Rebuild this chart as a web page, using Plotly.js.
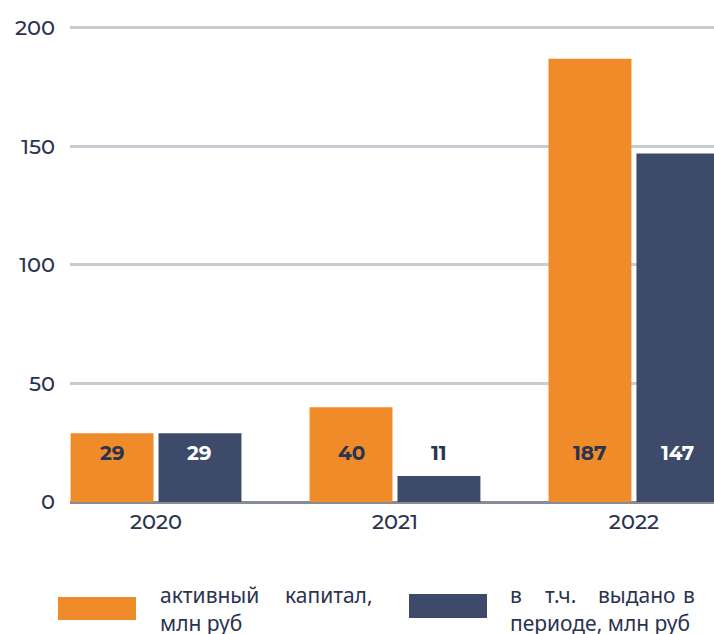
<!DOCTYPE html>
<html>
<head>
<meta charset="utf-8">
<script src="https://cdn.plot.ly/plotly-3.0.1.min.js"></script>
<style>html,body{margin:0;padding:0;background:#fff;}#chart{width:714px;height:634px;}</style>
</head>
<body>
<div id="chart"></div>
<script>
const years = ['2020', '2021', '2022'];
const activeCapital = [29, 40, 187];
const issued = [29, 11, 147];
const seriesNames = ['активный капитал, млн руб', 'в т.ч. выдано в периоде, млн руб'];
const yTicks = [0, 50, 100, 150, 200];

const ORANGE = '#EF8B28';
const NAVY = '#3D4A6A';
const DARK = '#2A3350';
const FONT = 'Montserrat, Inter, "Open Sans", sans-serif';

const traces = [
  {type: 'bar', x: years, y: activeCapital, name: seriesNames[0], marker: {color: ORANGE}, hoverinfo: 'skip'},
  {type: 'bar', x: years, y: issued, name: seriesNames[1], marker: {color: NAVY}, hoverinfo: 'skip'}
];

// plot area in pixels
const PL = 70, PR = 714, PT = 18, PB = 502;
const px2x = p => (p - PL) / (PR - PL);
const px2y = p => (PB - p) / (PB - PT);

const LABEL_Y = 20.5;
const OFF = 0.184;
const annotations = [];
years.forEach((yr, i) => {
  annotations.push({x: i - OFF, y: LABEL_Y, xref: 'x', yref: 'y', text: String(activeCapital[i]), showarrow: false,
    font: {family: FONT, size: 20, color: DARK, weight: 700}});
  const inside = issued[i] > LABEL_Y + 5;
  annotations.push({x: i + OFF, y: LABEL_Y, xref: 'x', yref: 'y', text: String(issued[i]), showarrow: false,
    font: {family: FONT, size: 20, color: inside ? '#FFFFFF' : DARK, weight: 700}});
});

// Legend (custom, justified text like the reference)
const LEG_FONT = {family: '"Noto Sans", "Open Sans", sans-serif', size: 21, color: DARK};
function legText(text, xpx, ypx, anchor) {
  annotations.push({x: px2x(xpx), y: px2y(ypx), xref: 'paper', yref: 'paper', text: text,
    showarrow: false, xanchor: anchor, yanchor: 'middle', font: LEG_FONT});
}
const L1 = 595, L2 = 623;
legText('активный', 158, L1, 'left');
legText('капитал,', 375, L1, 'right');
legText('млн руб', 158, L2, 'left');
legText('в', 508, L1, 'left');
legText('т.ч.', 543, L1, 'left');
legText('выдано', 596, L1, 'left');
legText('в', 697, L1, 'right');
legText('периоде, млн руб', 508, L2, 'left');

const shapes = [
  {type: 'rect', xref: 'paper', yref: 'paper', x0: px2x(58), x1: px2x(136), y0: px2y(620), y1: px2y(597), fillcolor: ORANGE, line: {width: 0}},
  {type: 'rect', xref: 'paper', yref: 'paper', x0: px2x(409), x1: px2x(487), y0: px2y(618), y1: px2y(594), fillcolor: NAVY, line: {width: 0}}
];

const layout = {
  width: 714, height: 634,
  margin: {l: PL, r: 714 - PR, t: PT, b: 634 - PB, pad: 0},
  paper_bgcolor: '#fff', plot_bgcolor: '#fff',
  showlegend: false,
  barmode: 'group', bargap: 0.264, bargroupgap: 0.057,
  font: {family: FONT, color: DARK},
  xaxis: {type: 'category', range: [-0.36, 2.335], showgrid: false, zeroline: false, showline: false,
    ticks: '', ticklabelstandoff: 5, tickfont: {family: FONT, size: 21, color: DARK, weight: 500}, fixedrange: true},
  yaxis: {range: [0, 204.2], tickvals: yTicks, ticktext: yTicks.map(String), showgrid: true,
    gridcolor: '#C8CBD1', gridwidth: 3, zeroline: true, zerolinecolor: '#878B95', zerolinewidth: 3,
    showline: false, ticks: '', ticklabelstandoff: 14, tickfont: {family: FONT, size: 21, color: DARK, weight: 500}, fixedrange: true},
  annotations: annotations,
  shapes: shapes
};

Plotly.newPlot('chart', traces, layout, {displayModeBar: false, staticPlot: true});
</script>
</body>
</html>
